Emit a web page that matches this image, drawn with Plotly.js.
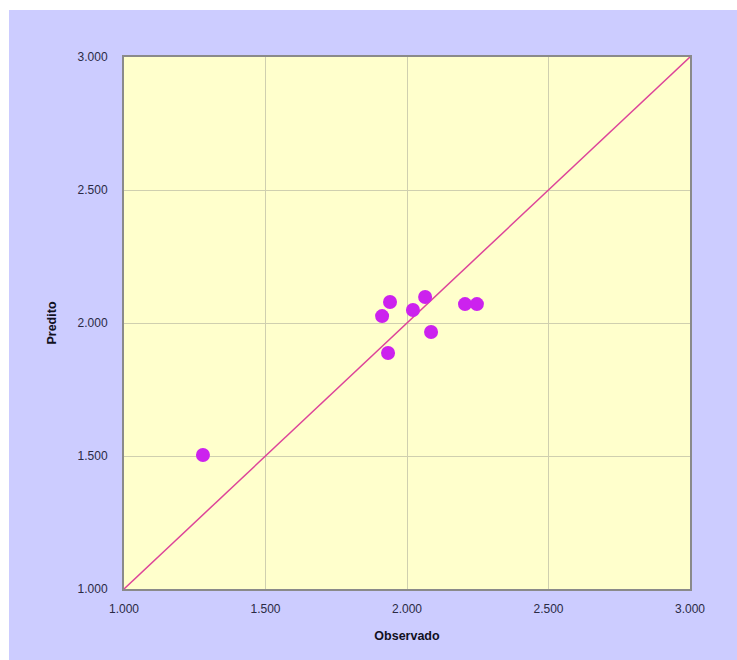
<!DOCTYPE html>
<html>
<head>
<meta charset="utf-8">
<script src="https://cdn.plot.ly/plotly-3.0.1.min.js"></script>
<style>
  html, body { margin: 0; padding: 0; background: #ffffff; }
  #wrap { position: absolute; left: 9px; top: 10px; width: 728px; height: 650px; background: #CCCCFF; }
  #chart { width: 728px; height: 650px; }
</style>
</head>
<body>
<div id="wrap"><div id="chart"></div></div>
<script>
// Observed vs predicted values
const observado = [1279, 1912, 1940, 1933, 2021, 2064, 2085, 2205, 2247];
const predito   = [1504, 2026, 2079, 1887, 2049, 2098, 1966, 2071, 2071];
const lineX = [1000, 3000];
const lineY = [1000, 3000];
const tickVals = [1000, 1500, 2000, 2500, 3000];

const traces = [
  {
    x: lineX, y: lineY, type: 'scatter', mode: 'lines',
    line: { color: '#DD4499', width: 1.5 }, hoverinfo: 'skip', cliponaxis: false
  },
  {
    x: observado, y: predito, type: 'scatter', mode: 'markers',
    marker: { color: '#CC22EE', size: 14, line: { width: 0 } }
  }
];

const tickFont = { family: 'Liberation Sans, Arial, sans-serif', size: 12, color: '#2A2A44' };
const titleFont = { family: 'Liberation Sans, Arial, sans-serif', size: 12.5, color: '#111122' };

const axisCommon = {
  range: [1000, 3000],
  tickvals: tickVals,
  tickformat: ',d',
  showgrid: true,
  gridcolor: '#CFCFAF',
  gridwidth: 1,
  zeroline: false,
  showline: true,
  mirror: true,
  linecolor: '#8A8A8A',
  linewidth: 2,
  ticks: 'outside',
  tickcolor: 'rgba(0,0,0,0)',
  tickfont: tickFont
};

const layout = {
  width: 728, height: 650,
  paper_bgcolor: 'rgba(0,0,0,0)',
  plot_bgcolor: '#FFFFCC',
  separators: ',.',
  showlegend: false,
  margin: { l: 115, r: 47, t: 47, b: 71 },
  xaxis: Object.assign({}, axisCommon, {
    ticklen: 8,
    title: { text: '<b>Observado</b>', standoff: 16, font: titleFont }
  }),
  yaxis: Object.assign({}, axisCommon, {
    ticklen: 12,
    title: { text: '<b>Predito</b>', standoff: 18, font: titleFont }
  })
};

Plotly.newPlot('chart', traces, layout, { staticPlot: true });
</script>
</body>
</html>
